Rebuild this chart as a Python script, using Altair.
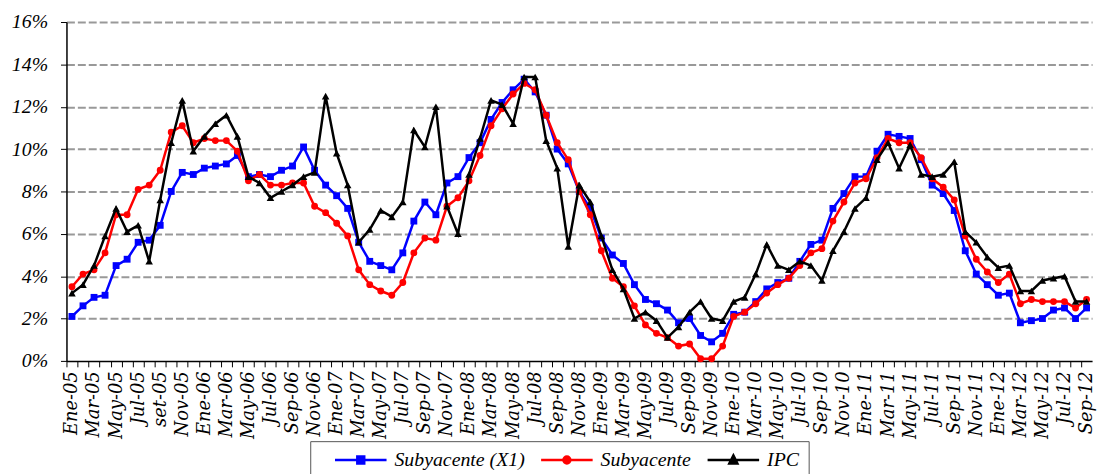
import json
import altair as alt
import pandas as pd

etiquetas = [
    "Ene-05", "Mar-05", "May-05", "Jul-05", "set-05", "Nov-05",
    "Ene-06", "Mar-06", "May-06", "Jul-06", "Sep-06", "Nov-06",
    "Ene-07", "Mar-07", "May-07", "Jul-07", "Sep-07", "Nov-07",
    "Ene-08", "Mar-08", "May-08", "Jul-08", "Sep-08", "Nov-08",
    "Ene-09", "Mar-09", "May-09", "Jul-09", "Sep-09", "Nov-09",
    "Ene-10", "Mar-10", "May-10", "Jul-10", "Sep-10", "Nov-10",
    "Ene-11", "Mar-11", "May-11", "Jul-11", "Sep-11", "Nov-11",
    "Ene-12", "Mar-12", "May-12", "Jul-12", "Sep-12",
]

subyacente_x1 = [
    2.1, 2.6, 3.0, 3.1, 4.5, 4.8, 5.6, 5.7, 6.4, 8.0, 8.9, 8.8, 9.1, 9.2, 9.3, 9.7,
    8.7, 8.8, 8.7, 9.0, 9.2, 10.1, 9.0, 8.3, 7.8, 7.2,
    5.6, 4.7, 4.5, 4.3, 5.1, 6.6, 7.5, 6.9, 8.4, 8.7, 9.6, 10.3, 11.4, 12.2, 12.8, 13.3,
    12.7, 11.6, 10.0, 9.3, 8.0, 7.2, 5.8, 5.0, 4.6, 3.6,
    2.9, 2.7, 2.4, 1.8, 2.0, 1.2, 0.9, 1.3, 2.2, 2.3, 2.8, 3.4, 3.7, 3.9, 4.7, 5.5,
    5.7, 7.2, 7.9, 8.7, 8.7, 9.9, 10.7,
    10.6, 10.5, 9.5, 8.3, 7.9, 7.1, 5.2, 4.1, 3.6, 3.1, 3.2, 1.8, 1.9, 2.0, 2.4, 2.5,
    2.0, 2.5,
]

subyacente = [
    3.5, 4.1, 4.3, 5.1, 6.9, 6.9, 8.1, 8.3, 9.0, 10.8, 11.1, 10.3, 10.5, 10.4, 10.4, 9.9,
    8.5, 8.8, 8.3, 8.3, 8.4, 8.4, 7.3, 7.0, 6.5, 5.9,
    4.3, 3.6, 3.3, 3.1, 3.7, 5.1, 5.8, 5.7, 7.3, 7.7, 8.5, 9.7, 11.1, 11.9, 12.6, 13.1,
    12.8, 11.6, 10.3, 9.5, 8.0, 6.9, 5.2, 3.9, 3.5, 2.6,
    1.7, 1.3, 1.1, 0.7, 0.8, 0.1, 0.1, 0.7, 2.1, 2.3, 2.7, 3.2, 3.6, 3.9, 4.5, 5.1,
    5.3, 6.6, 7.5, 8.4, 8.6, 9.6, 10.5,
    10.3, 10.3, 9.6, 8.6, 8.2, 7.6, 5.9, 4.8, 4.2, 3.7, 4.1, 2.7, 2.9, 2.8, 2.8, 2.8,
    2.5, 2.9,
]

ipc = [
    3.2, 3.6, 4.5, 5.9, 7.2, 6.1, 6.4, 4.7, 7.6, 10.3, 12.3, 9.9, 10.6, 11.2, 11.6, 10.6,
    8.7, 8.4, 7.7, 8.0, 8.3, 8.7, 8.9, 12.5, 9.8, 8.3,
    5.6, 6.2, 7.1, 6.8, 7.5, 10.9, 10.1, 12.0, 7.3, 6.0, 8.8, 10.5, 12.3, 12.1, 11.2, 13.4,
    13.4, 10.4, 9.1, 5.4, 8.3, 7.5, 5.9, 4.3, 3.4, 2.0,
    2.3, 1.9, 1.1, 1.6, 2.3, 2.8, 2.0, 1.9, 2.8, 3.0, 4.1, 5.5, 4.5, 4.3, 4.7, 4.5,
    3.8, 5.2, 6.1, 7.2, 7.7, 9.5, 10.3,
    9.1, 10.2, 8.8, 8.7, 8.8, 9.4, 6.1, 5.6, 4.9, 4.4, 4.5, 3.3, 3.3, 3.8, 3.9, 4.0,
    2.8, 2.8,
]

series = ["Subyacente (X1)", "Subyacente", "IPC"]
colores = ["#0000FF", "#FF0000", "#000000"]
formas = ["square", "circle", "triangle-up"]
tamanos = [48, 48, 58]

SERIF = "Liberation Serif, Times New Roman, Times, serif"

rows = []
for name, vals in zip(series, [subyacente_x1, subyacente, ipc]):
    for i, v in enumerate(vals):
        rows.append({"serie": name, "idx": i, "valor": v})
df = pd.DataFrame(rows)

n = len(subyacente_x1)
W, H = 1035, 342
step = W / n

# legend symbols: a line with a marker in the middle (units of r = 7 px)
line_part = "M0.857,0L8.286,0"
sym_paths = [
    line_part + "M4.071,-0.5L5.071,-0.5L5.071,0.5L4.071,0.5Z",
    line_part + "M5.071,0A0.5,0.5,0,1,1,4.071,0A0.5,0.5,0,1,1,5.071,0Z",
    line_part + "M4.571,-0.66L5.15,0.5L3.99,0.5Z",
]

legend = alt.Legend(
    orient="none",
    legendX=246,
    legendY=423,
    direction="horizontal",
    title=None,
    padding=9,
    strokeColor="#555555",
    labelFont=SERIF,
    labelFontStyle="italic",
    labelFontSize=20,
    labelColor="black",
    labelOffset=56,
    columnPadding=-8,
    symbolSize=196,
    symbolStrokeWidth=2.5,
)

labels_js = json.dumps(etiquetas)

x_enc = alt.X(
    "idx:Q",
    scale=alt.Scale(domain=[-0.5, n - 0.5], nice=False, zero=False),
    axis=alt.Axis(
        title=None,
        values=list(range(n)),
        labelExpr=f"datum.value % 2 === 0 ? {labels_js}[datum.value / 2] : ''",
        labelAngle=270,
        labelAlign="right",
        labelBaseline="middle",
        labelFont="DejaVu Serif",
        labelFontStyle="italic",
        labelFontSize=18,
        labelColor="black",
        labelOverlap=False,
        labelFlush=False,
        labelBound=False,
        labelPadding=4,
        tickOffset=-step / 2,
        labelOffset=step / 2,
        tickSize=6,
        tickColor="black",
        domainColor="black",
        domainWidth=1.5,
        grid=False,
    ),
)

y_enc = alt.Y(
    "valor:Q",
    scale=alt.Scale(domain=[0, 16], nice=False),
    axis=alt.Axis(
        title=None,
        values=list(range(0, 17, 2)),
        labelExpr="datum.value + '%'",
        labelFont=SERIF,
        labelFontStyle="italic",
        labelFontSize=20,
        labelColor="black",
        labelPadding=13,
        tickSize=6,
        tickColor="black",
        domainColor="black",
        domainWidth=1.5,
        grid=True,
        gridColor="#999999",
        gridDash=[8, 3],
        gridWidth=2,
        gridOpacity={"condition": {"test": "datum.value === 0", "value": 0}, "value": 1},
    ),
)

layers = []
for name, col, shp, sz in zip(series, colores, formas, tamanos):
    base = alt.Chart(df).transform_filter(alt.datum.serie == name)
    line = base.mark_line(strokeWidth=2.5, color=col).encode(x=x_enc, y=y_enc)
    pts = base.mark_point(filled=True, shape=shp, size=sz, color=col, opacity=1).encode(
        x=x_enc, y=y_enc
    )
    layers += [line, pts]

# legend-only layer (no marks drawn): fill, stroke and shape share the series field
legend_layer = (
    alt.Chart(df)
    .transform_filter("false")
    .mark_point(opacity=1, strokeWidth=2.5)
    .encode(
        x=x_enc,
        y=y_enc,
        fill=alt.Fill("serie:N", scale=alt.Scale(domain=series, range=colores), legend=legend),
        stroke=alt.Stroke("serie:N", scale=alt.Scale(domain=series, range=colores), legend=legend),
        shape=alt.Shape("serie:N", scale=alt.Scale(domain=series, range=sym_paths), legend=legend),
    )
)
layers.append(legend_layer)

chart = (
    alt.layer(*layers)
    .properties(
        width=W,
        height=H,
        autosize=alt.AutoSizeParams(type="none"),
        padding={"left": 59, "top": 12, "right": 8, "bottom": 112},
    )
    .configure_view(stroke=None)
)

chart.save("out.html", embed_options={"renderer": "svg", "actions": False})
